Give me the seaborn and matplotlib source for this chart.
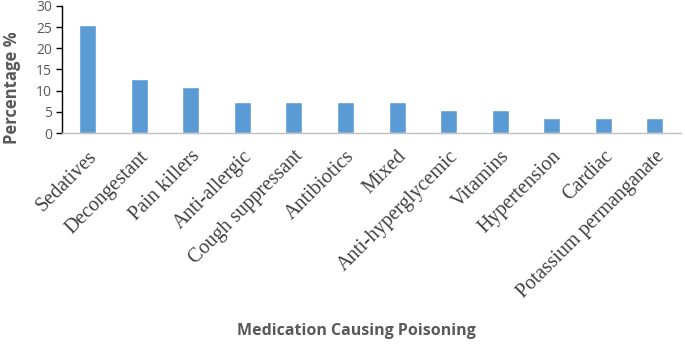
import matplotlib
matplotlib.use("Agg")
import matplotlib.pyplot as plt
import seaborn as sns
import pandas as pd

categories = ["Sedatives", "Decongestant", "Pain killers", "Anti-allergic",
              "Cough suppressant", "Antibiotics", "Mixed", "Anti-hyperglycemic",
              "Vitamins", "Hypertension", "Cardiac", "Potassium permanganate"]
percentages = [25.45, 12.73, 10.91, 7.27, 7.27, 7.27, 7.27, 5.45, 5.45, 3.64, 3.64, 3.64]
y_ticks = [0, 5, 10, 15, 20, 25, 30]

sns.set_style("white")
df = pd.DataFrame({"cat": categories, "pct": percentages})

fig = plt.figure(figsize=(6.85, 3.44), dpi=100)
ax = fig.add_axes([0.0905, 0.613, 0.903, 0.370])
sns.barplot(data=df, x="cat", y="pct", color="#5B9BD5", width=0.33,
            saturation=1, ax=ax)
ax.set_ylim(0, 30)
ax.set_xlim(-0.5, len(categories) - 0.5)
ax.set_yticks(y_ticks)
ax.set_yticklabels([str(t) for t in y_ticks], fontsize=10, color="#595959",
                   family="Open Sans")
ax.tick_params(axis="y", direction="out", length=4, width=1, color="black", left=True, pad=3)
ax.tick_params(axis="x", length=0, pad=10)
ax.set_xticks(range(len(categories)))
ax.set_xticklabels(categories, rotation=45, ha="right", rotation_mode="anchor",
                   fontsize=14.5, family="Liberation Serif", color="#404040")
for s in ["top", "right"]:
    ax.spines[s].set_visible(False)
ax.spines["left"].set_color("black")
ax.spines["left"].set_linewidth(1)
ax.spines["bottom"].set_color("#BFBFBF")
ax.spines["bottom"].set_linewidth(1)
ax.set_xlabel("")
ax.set_ylabel("")
fig.text(0.018, 0.744, "Percentage %", rotation=90, ha="center", va="center",
         fontsize=12, fontweight="bold", color="#595959", family="Open Sans")
fig.text(0.52, 0.038, "Medication Causing Poisoning", ha="center", va="center",
         fontsize=11.5, fontweight="bold", color="#595959", family="Open Sans")
fig.savefig("out.png", dpi=100)
